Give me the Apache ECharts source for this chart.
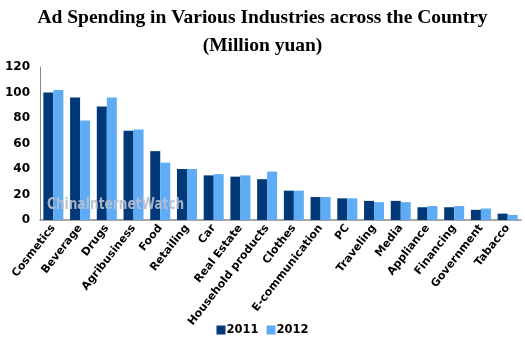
<!DOCTYPE html>
<html><head><meta charset="utf-8">
<script src="https://cdn.jsdelivr.net/npm/echarts@6/dist/echarts.min.js"></script>
<style>html,body{margin:0;padding:0;background:#fff}#c{width:525px;height:341px}</style>
</head><body><div id="c"></div>
<script>
var categories = ["Cosmetics","Beverage","Drugs","Agribusiness","Food","Retailing","Car","Real Estate","Household products","Clothes","E-communication","PC","Traveling","Media","Appliance","Financing","Government","Tabacco"];
var values2011 = [100,96,89,70,54,40,35,34,32,23,18,17,15,15,10,10,8,5];
var values2012 = [102,78,96,71,45,40,36,35,38,23,18,17,14,14,11,11,9,4];
var yTicks = [0,20,40,60,80,100,120];
var seriesNames = ["2011","2012"];

var chart = echarts.init(document.getElementById('c'));
chart.setOption({
  animation:false,
  backgroundColor:'#ffffff',
  title:{
    text:'Ad Spending in Various Industries across the Country\n(Million yuan)',
    left:'center', top:-1,
    textStyle:{fontFamily:'Liberation Serif', fontWeight:'bold', fontSize:19.5, lineHeight:28, color:'#000'}
  },
  legend:{
    data:seriesNames, bottom:0, left:'center', itemWidth:9, itemHeight:9, itemGap:8,
    icon:'rect',
    textStyle:{fontFamily:'DejaVu Sans', fontWeight:'bold', fontSize:11.5, color:'#000', padding:[0,0,0,-4]}
  },
  grid:{left:40, right:4, top:67, bottom:121},
  graphic:[{type:'text', left:47, top:198, silent:true, z:10, scaleX:0.9,
    style:{text:'ChinaInternetWatch', fill:'rgba(185,190,205,0.9)', font:'bold 15px "Liberation Sans Narrow", "DejaVu Sans Condensed", sans-serif'}}],
  xAxis:{
    type:'category', data:categories,
    axisLine:{lineStyle:{color:'#888', width:1.5}},
    axisTick:{show:false},
    axisLabel:{interval:0, rotate:52, margin:6, fontFamily:'DejaVu Sans', fontWeight:'bold', fontSize:11, color:'#000'}
  },
  yAxis:{
    type:'value', min:0, max:120, interval:20,
    axisLine:{show:true, lineStyle:{color:'#888', width:1}},
    axisTick:{show:false},
    splitLine:{show:false},
    axisLabel:{fontFamily:'DejaVu Sans', fontWeight:'bold', fontSize:12, color:'#000', margin:10,
      formatter:function(v){return yTicks.indexOf(v)>=0?String(v):'';}}
  },
  series:[
    {name:seriesNames[0], type:'bar', data:values2011, barWidth:10, barGap:'0%', itemStyle:{color:'#013878'}},
    {name:seriesNames[1], type:'bar', data:values2012, barWidth:10, barGap:'0%', itemStyle:{color:'#5eacf6'}}
  ]
});
</script></body></html>
